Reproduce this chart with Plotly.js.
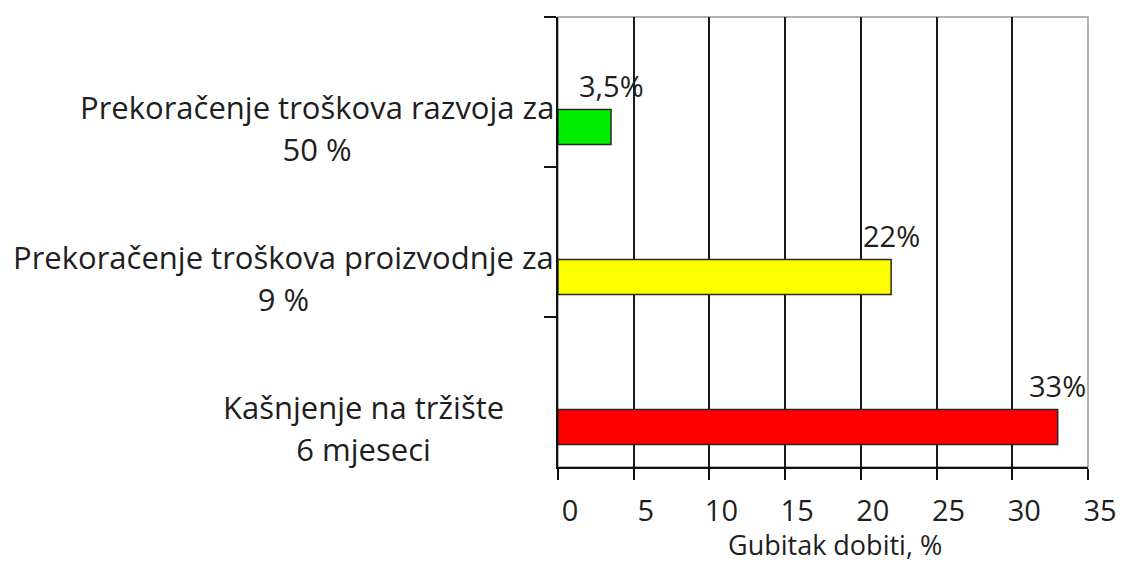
<!DOCTYPE html>
<html>
<head>
<meta charset="utf-8">
<script src="https://cdn.plot.ly/plotly-3.0.1.min.js"></script>
<style>html,body{margin:0;padding:0;background:#fff;}#chart{width:1123px;height:563px;}</style>
</head>
<body>
<div id="chart"></div>
<script>
// Data
var categories = [
  'Prekoračenje troškova razvoja za<br>50 %',
  'Prekoračenje troškova proizvodnje za<br>9 %',
  'Kašnjenje na tržište<br>6 mjeseci'
];
var values = [3.5, 22, 33];
var barColors = ['#00ee00', '#ffff00', '#ff0000'];
var xTickVals = [0, 5, 10, 15, 20, 25, 30, 35];
var xTickText = ['0', '5', '10', '15', '20', '25', '30', '35'];
var xTitle = 'Gubitak dobiti, %';

var FONT = 'Open Sans, Noto Sans, sans-serif';
var TXT = '#1e1e1e';
var FS = 31;

var trace = {
  type: 'bar',
  orientation: 'h',
  x: values,
  y: categories,
  width: 0.233,
  offset: 0.117,
  marker: {color: barColors, line: {color: '#2a2a2a', width: 1.5}},
  hoverinfo: 'skip'
};

function fmt(v) { return String(v).replace('.', ',') + '%'; }

var annotations = [];
// category labels (centred multi-line, aligned with bars)
var labelShift = [0, 0, -50];
categories.forEach(function (c, i) {
  var parts = c.split('<br>').map(function (p) {
    return '<span style="font-size:' + FS + 'px">' + p + '</span>';
  });
  annotations.push({
    xref: 'paper', yref: 'y', x: 0, y: c,
    text: parts.join('<br>'),
    showarrow: false, xanchor: 'right', yanchor: 'middle',
    align: 'center', xshift: -2 + labelShift[i], yshift: -36,
    font: {family: FONT, size: 32, color: TXT}
  });
});
// value labels
values.forEach(function (v, i) {
  annotations.push({
    xref: 'x', yref: 'y', x: v, y: categories[i],
    text: fmt(v), showarrow: false,
    xanchor: 'center', yanchor: 'middle', yshift: 7,
    font: {family: FONT, size: FS - 2, color: TXT}
  });
});
// axis title
annotations.push({
  xref: 'paper', yref: 'paper', x: 0.5, y: 0,
  text: xTitle, showarrow: false, borderpad: 0,
  xanchor: 'center', yanchor: 'middle', xshift: 12, yshift: -77,
  font: {family: FONT, size: 27, color: TXT}
});

var layout = {
  width: 1123, height: 563,
  margin: {l: 558, r: 35, t: 17, b: 96, pad: 0},
  paper_bgcolor: '#fff', plot_bgcolor: '#fff',
  showlegend: false,
  bargap: 0,
  xaxis: {
    range: [0, 35], tickvals: xTickVals, ticktext: xTickText,
    showgrid: true, gridcolor: '#1a1a1a', gridwidth: 2,
    zeroline: false,
    showline: true, linecolor: '#111', linewidth: 2,
    ticks: 'outside', ticklen: 11, tickwidth: 2, tickcolor: '#111',
    ticklabelstandoff: 6, ticklabelshift: 12,
    tickfont: {family: FONT, size: FS - 2, color: TXT},
    fixedrange: true
  },
  yaxis: {
    type: 'category', range: [2.5, -0.5], autorange: false,
    showticklabels: false, showgrid: false, zeroline: false,
    showline: true, linecolor: '#111', linewidth: 2,
    ticks: 'outside', tickson: 'boundaries', ticklen: 12, tickwidth: 2, tickcolor: '#111',
    fixedrange: true
  },
  shapes: [{
    type: 'rect', xref: 'paper', yref: 'paper', x0: 0, x1: 1, y0: 0, y1: 1,
    line: {color: '#9a9a9a', width: 1.5}, layer: 'between'
  }],
  annotations: annotations
};

Plotly.newPlot('chart', [trace], layout, {staticPlot: true, displayModeBar: false});
</script>
</body>
</html>
